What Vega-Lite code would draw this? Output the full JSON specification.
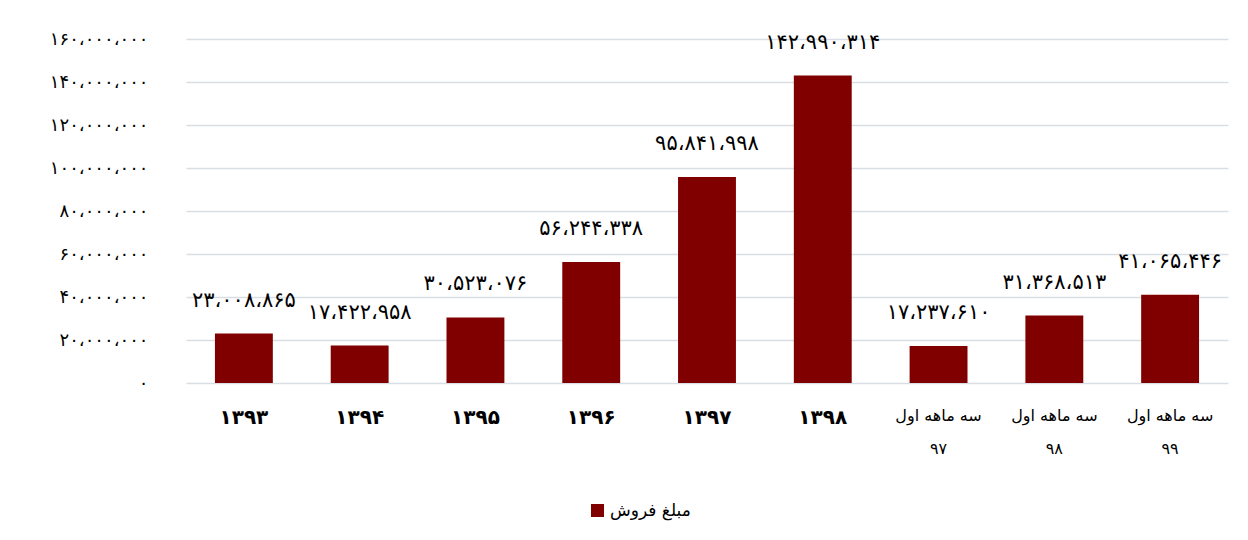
{
  "$schema": "https://vega.github.io/schema/vega-lite/v6.json",
  "width": 1042,
  "height": 344,
  "autosize": "none",
  "padding": {"left": 186, "top": 39, "right": 20, "bottom": 157},
  "background": "white",
  "config": {
    "locale": {
      "number": {
        "decimal": ".",
        "thousands": "،",
        "grouping": [3],
        "currency": ["", ""],
        "numerals": ["۰", "۱", "۲", "۳", "۴", "۵", "۶", "۷", "۸", "۹"]
      }
    },
    "view": {"stroke": null},
    "font": "DejaVu Sans"
  },
  "data": {
    "values": [
      {"period": "۱۳۹۳", "sales": 23008865},
      {"period": "۱۳۹۴", "sales": 17422958},
      {"period": "۱۳۹۵", "sales": 30523076},
      {"period": "۱۳۹۶", "sales": 56244338},
      {"period": "۱۳۹۷", "sales": 95841998},
      {"period": "۱۳۹۸", "sales": 142990314},
      {"period": "سه ماهه اول|۹۷", "sales": 17237610},
      {"period": "سه ماهه اول|۹۸", "sales": 31368513},
      {"period": "سه ماهه اول|۹۹", "sales": 41065446}
    ]
  },
  "encoding": {
    "x": {
      "field": "period",
      "type": "nominal",
      "sort": null,
      "scale": {"paddingInner": 0.5, "paddingOuter": 0.25},
      "axis": {
        "title": null,
        "domain": false,
        "ticks": false,
        "labelAngle": 0,
        "labelPadding": 24,
        "labelColor": "#000000",
        "labelExpr": "split(datum.value, '|')",
        "labelLineHeight": 33,
        "labelFontWeight": {"condition": {"test": "indexof(datum.value, '|') < 0", "value": "bold"}, "value": "normal"},
        "labelFontSize": {"condition": {"test": "indexof(datum.value, '|') < 0", "value": 20}, "value": 16}
      }
    },
    "y": {
      "field": "sales",
      "type": "quantitative",
      "scale": {"domain": [0, 160000000]},
      "axis": {
        "title": null,
        "values": [0, 20000000, 40000000, 60000000, 80000000, 100000000, 120000000, 140000000, 160000000],
        "format": ",.0f",
        "domain": false,
        "ticks": false,
        "labelPadding": 38,
        "labelFontSize": 18,
        "labelColor": "#000000",
        "grid": true,
        "gridColor": "#d9dee5",
        "gridWidth": 1.5
      }
    }
  },
  "layer": [
    {
      "mark": {"type": "bar"},
      "encoding": {
        "color": {
          "datum": "مبلغ فروش",
          "type": "nominal",
          "scale": {"range": ["#800000"]},
          "legend": {
            "title": null,
            "orient": "none",
            "legendX": 403,
            "legendY": 463,
            "symbolType": "square",
            "symbolSize": 170,
            "symbolStrokeWidth": 0,
            "labelFontSize": 17,
            "labelColor": "#000000"
          }
        }
      }
    },
    {
      "mark": {"type": "text", "baseline": "bottom", "dy": -23, "fontSize": 21, "color": "#000000"},
      "encoding": {
        "text": {"field": "sales", "type": "quantitative", "format": ",.0f"}
      }
    }
  ]
}
